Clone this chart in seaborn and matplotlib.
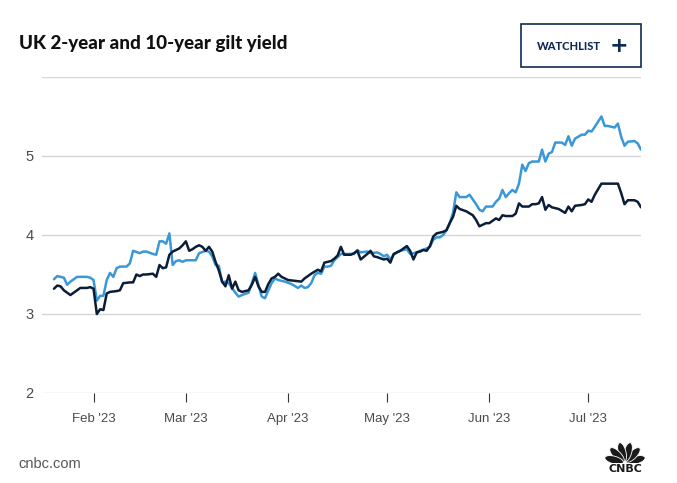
import math
import matplotlib
matplotlib.use("Agg")
import matplotlib.pyplot as plt
import matplotlib.dates as mdates
from matplotlib.patches import Rectangle, Ellipse
import pandas as pd
import seaborn as sns

title = "UK 2-year and 10-year gilt yield"
series_names = ["UK 2-year", "UK 10-year"]
y_ticks = [2, 3, 4, 5, 6]
y_tick_labels = ["2", "3", "4", "5", ""]
x_tick_dates = ["2023-02-01", "2023-03-01", "2023-04-01", "2023-05-01", "2023-06-01", "2023-07-01"]

two_year_dates = [
    "01-20", "01-21", "01-22", "01-23", "01-24", "01-25", "01-27", "01-30", "01-31",
    "02-01", "02-02", "02-03", "02-04", "02-05", "02-06", "02-07", "02-08", "02-09", "02-11",
    "02-12", "02-13", "02-15", "02-16", "02-17", "02-19", "02-20", "02-21", "02-22", "02-23",
    "02-24", "02-25", "02-26", "02-27", "02-28",
    "03-01", "03-02", "03-04", "03-05", "03-07", "03-08", "03-09", "03-10", "03-11", "03-12",
    "03-13", "03-14", "03-15", "03-16", "03-17", "03-18", "03-20", "03-21", "03-22", "03-23",
    "03-24", "03-25", "03-26", "03-27", "03-28", "03-29", "03-31",
    "04-02", "04-04", "04-05", "04-06", "04-07", "04-08", "04-09", "04-10", "04-11", "04-12",
    "04-13", "04-14", "04-15", "04-17", "04-18", "04-21", "04-22", "04-23", "04-25", "04-26",
    "04-28", "04-29", "04-30",
    "05-01", "05-02", "05-03", "05-04", "05-05", "05-07", "05-08", "05-10", "05-11", "05-13",
    "05-14", "05-15", "05-16", "05-17", "05-18", "05-19", "05-20", "05-21", "05-22", "05-23",
    "05-25", "05-26", "05-28", "05-29", "05-30", "05-31",
    "06-02", "06-03", "06-04", "06-05", "06-06", "06-07", "06-08", "06-09", "06-10", "06-11",
    "06-12", "06-13", "06-14", "06-16", "06-17", "06-18", "06-19", "06-20", "06-21", "06-23",
    "06-24", "06-25", "06-26", "06-27", "06-29", "06-30",
    "07-01", "07-02", "07-03", "07-05", "07-06", "07-07", "07-09", "07-10", "07-11", "07-12",
    "07-13", "07-15", "07-16", "07-17",
]
two_year_values = [
    3.44, 3.48, 3.47, 3.46, 3.37, 3.41, 3.47, 3.47, 3.46,
    3.43, 3.17, 3.23, 3.23, 3.43, 3.52, 3.47, 3.58, 3.60, 3.60,
    3.64, 3.80, 3.77, 3.79, 3.79, 3.76, 3.75, 3.92, 3.92, 3.89,
    4.02, 3.62, 3.67, 3.68, 3.66,
    3.68, 3.68, 3.68, 3.77, 3.80, 3.79, 3.73, 3.62, 3.61, 3.40,
    3.41, 3.39, 3.33, 3.27, 3.22, 3.24, 3.27, 3.39, 3.52, 3.37,
    3.22, 3.20, 3.30, 3.39, 3.45, 3.43, 3.41,
    3.38, 3.33, 3.36, 3.33, 3.34, 3.39, 3.49, 3.52, 3.51, 3.60,
    3.60, 3.61, 3.68, 3.76, 3.76, 3.76, 3.81, 3.78, 3.79, 3.77,
    3.78, 3.76, 3.73,
    3.75, 3.69, 3.75, 3.78, 3.80, 3.82, 3.76, 3.78, 3.80, 3.83,
    3.85, 3.94, 3.97, 3.97, 4.00, 4.06, 4.15, 4.28, 4.54, 4.48,
    4.48, 4.51, 4.39, 4.32, 4.30, 4.36,
    4.36, 4.42, 4.46, 4.57, 4.48, 4.53, 4.57, 4.54, 4.65, 4.89,
    4.81, 4.91, 4.93, 4.93, 5.08, 4.93, 5.03, 5.05, 5.17, 5.17,
    5.14, 5.25, 5.13, 5.22, 5.27, 5.27,
    5.32, 5.31, 5.37, 5.50, 5.38, 5.38, 5.36, 5.41, 5.24, 5.13,
    5.18, 5.19, 5.16, 5.08,
]

ten_year_dates = [
    "01-20", "01-21", "01-22", "01-23", "01-25", "01-27", "01-28", "01-30", "01-31",
    "02-01", "02-02", "02-03", "02-04", "02-05", "02-06", "02-08", "02-09", "02-10", "02-12",
    "02-13", "02-14", "02-15", "02-16", "02-17", "02-19", "02-20", "02-21", "02-22", "02-23",
    "02-24", "02-25", "02-27", "02-28",
    "03-01", "03-02", "03-03", "03-04", "03-05", "03-06", "03-07", "03-08", "03-09", "03-10",
    "03-11", "03-12", "03-13", "03-14", "03-15", "03-16", "03-17", "03-18", "03-19", "03-20",
    "03-21", "03-22", "03-23", "03-24", "03-25", "03-26", "03-27", "03-28", "03-29", "03-30",
    "04-01", "04-03", "04-05", "04-06", "04-08", "04-10", "04-11", "04-12", "04-14", "04-15",
    "04-16", "04-17", "04-18", "04-20", "04-21", "04-22", "04-23", "04-25", "04-26", "04-27",
    "04-28", "04-30",
    "05-01", "05-02", "05-03", "05-05", "05-06", "05-07", "05-08", "05-09", "05-10", "05-11",
    "05-12", "05-13", "05-14", "05-15", "05-16", "05-18", "05-19", "05-20", "05-21", "05-22",
    "05-23", "05-25", "05-27", "05-28", "05-29", "05-31",
    "06-01", "06-02", "06-03", "06-04", "06-05", "06-06", "06-08", "06-09", "06-10", "06-11",
    "06-13", "06-14", "06-15", "06-16", "06-17", "06-18", "06-19", "06-20", "06-22", "06-24",
    "06-25", "06-26", "06-27", "06-29", "06-30",
    "07-01", "07-02", "07-03", "07-05", "07-07", "07-10", "07-11", "07-12", "07-13", "07-15",
    "07-16", "07-17",
]
ten_year_values = [
    3.32, 3.36, 3.35, 3.30, 3.24, 3.30, 3.33, 3.33, 3.34,
    3.32, 3.00, 3.06, 3.05, 3.26, 3.28, 3.29, 3.30, 3.39, 3.40,
    3.40, 3.50, 3.48, 3.50, 3.50, 3.51, 3.47, 3.62, 3.58, 3.59,
    3.75, 3.79, 3.83, 3.87,
    3.92, 3.80, 3.82, 3.85, 3.87, 3.85, 3.80, 3.85, 3.79, 3.66,
    3.55, 3.41, 3.35, 3.49, 3.32, 3.41, 3.30, 3.28, 3.29, 3.30,
    3.37, 3.47, 3.35, 3.28, 3.28, 3.38, 3.45, 3.47, 3.51, 3.47,
    3.43, 3.42, 3.41, 3.45, 3.51, 3.56, 3.54, 3.65, 3.67, 3.70,
    3.74, 3.85, 3.75, 3.75, 3.77, 3.80, 3.69, 3.76, 3.80, 3.73,
    3.72, 3.69,
    3.70, 3.65, 3.76, 3.80, 3.83, 3.86, 3.80, 3.69, 3.78, 3.79,
    3.81, 3.80, 3.86, 3.98, 4.02, 4.04, 4.06, 4.15, 4.23, 4.37,
    4.33, 4.30, 4.25, 4.19, 4.11, 4.15,
    4.15, 4.18, 4.21, 4.19, 4.25, 4.24, 4.24, 4.27, 4.40, 4.36,
    4.36, 4.39, 4.39, 4.40, 4.48, 4.32, 4.38, 4.35, 4.33, 4.28,
    4.36, 4.30, 4.37, 4.38, 4.39,
    4.45, 4.42, 4.51, 4.65, 4.65, 4.65, 4.53, 4.39, 4.44, 4.44,
    4.42, 4.35,
]

colors = {"UK 2-year": "#3a98d6", "UK 10-year": "#0c1d38"}

df = pd.concat([
    pd.DataFrame({"date": pd.to_datetime(["2023-" + d for d in two_year_dates]),
                  "yield": two_year_values, "series": series_names[0]}),
    pd.DataFrame({"date": pd.to_datetime(["2023-" + d for d in ten_year_dates]),
                  "yield": ten_year_values, "series": series_names[1]}),
], ignore_index=True)

sns.set_theme(style="white")
plt.rcParams["font.family"] = ["Liberation Sans", "DejaVu Sans"]

W, H = 677, 483
fig = plt.figure(figsize=(W / 100, H / 100), dpi=100)
fig.patch.set_facecolor("white")

ax = fig.add_axes([42 / W, 1 - 393 / H, (641 - 42) / W, (393 - 77) / H])
sns.lineplot(data=df, x="date", y="yield", hue="series", palette=colors,
             hue_order=series_names, linewidth=1.8, legend=False, ax=ax,
             estimator=None, sort=False)

ax.set_ylim(2, 6)
ax.set_yticks(y_ticks)
ax.set_yticklabels(y_tick_labels)
ax.set_xlim(pd.Timestamp("2023-01-16 09:00"), pd.Timestamp("2023-07-17"))
ax.set_xticks(pd.to_datetime(x_tick_dates))
ax.xaxis.set_major_formatter(mdates.DateFormatter("%b '%y"))
ax.set_xlabel("")
ax.set_ylabel("")
for s in ax.spines.values():
    s.set_visible(False)
ax.grid(axis="y", color="#d6d6d6", linewidth=1.0)
ax.grid(axis="x", visible=False)
ax.tick_params(axis="y", length=0, pad=6, labelsize=10.5, labelcolor="#4a4a4a")
ax.tick_params(axis="x", direction="out", length=6.5, width=0.8, color="#333333",
               pad=8, labelsize=9.5, labelcolor="#4a4a4a", bottom=True)
for lab in ax.get_yticklabels():
    lab.set_horizontalalignment("right")

# title
fig.text(19 / W, 1 - 44 / H, title, fontsize=13.5, fontweight="black",
         color="#111111", va="center", ha="left", family=["Lato", "DejaVu Sans"])

# watchlist button
fig.patches.append(Rectangle((521 / W, 1 - 67 / H), 120 / W, 43 / H,
                             transform=fig.transFigure, fill=False,
                             edgecolor="#0f2b55", linewidth=1.2))
fig.text(537 / W, 1 - 46 / H, "WATCHLIST", fontsize=8, fontweight="black",
         color="#0f2b55", va="center", ha="left", family=["Lato", "DejaVu Sans"])
fig.text(619 / W, 1 - 46.5 / H, "+", fontsize=16, fontweight="bold", color="#0f2b55",
         va="center", ha="center", family=["DejaVu Sans"])

# footer
fig.text(18 / W, 1 - 464 / H, "cnbc.com", fontsize=10.5, color="#555555",
         va="center", ha="left")

# logo
lax = fig.add_axes([605 / W, 1 - 463 / H, 40 / W, 22 / H])
lax.set_xlim(-1.1, 1.1)
lax.set_ylim(0, 1.2)
lax.axis("off")
for ang in [15, 45, 75, 105, 135, 165]:
    r = 0.62
    lax.add_patch(Ellipse((r * math.cos(math.radians(ang)), r * math.sin(math.radians(ang))),
                          width=1.05, height=0.42, angle=ang, facecolor="#1a1a1a",
                          edgecolor="white", linewidth=0.6))
fig.text(625 / W, 1 - 469.5 / H, "CNBC", fontsize=8, fontweight="heavy",
         color="#1a1a1a", va="center", ha="center", family=["DejaVu Sans"])

fig.savefig("out.png", dpi=100, facecolor="white")
